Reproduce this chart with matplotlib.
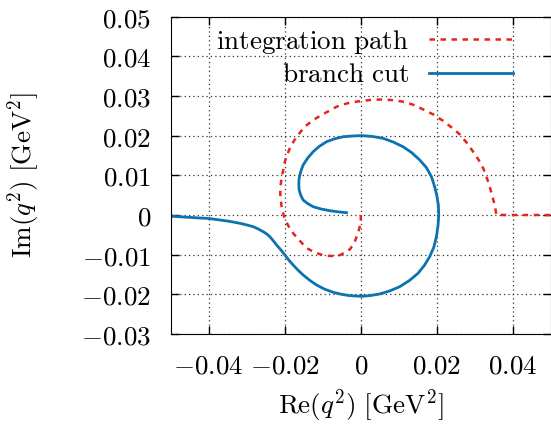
import matplotlib
matplotlib.use('Agg')
import matplotlib.pyplot as plt

plt.rcParams['mathtext.fontset'] = 'cm'
plt.rcParams['font.family'] = 'serif'
plt.rcParams['font.serif'] = ['DejaVu Serif']

# integration path
path_re = [0.0, 0.0, -0.0003, -0.00071, -0.00158, -0.0028, -0.0042, -0.0056, -0.0071,
           -0.0085, -0.0099, -0.0113, -0.01253, -0.0139, -0.01516, -0.0165, -0.01778,
           -0.0187, -0.01952, -0.0203, -0.0208, -0.02115, -0.02115, -0.02083, -0.0204,
           -0.01996, -0.01935, -0.01865, -0.0178, -0.01689, -0.0158, -0.01471, -0.01253,
           -0.0099, -0.0082, -0.00638, -0.0045, -0.00244, 0.0, 0.00236, 0.0052, 0.00806,
           0.0115, 0.014, 0.01636, 0.01899, 0.02162, 0.02382, 0.026, 0.02776, 0.02934,
           0.031, 0.03231, 0.0337, 0.03449, 0.0352, 0.03565, 0.05]
path_im = [0.0, -0.0015, -0.003, -0.0045, -0.00672, -0.0086, -0.0095, -0.01015, -0.01033,
           -0.0103, -0.01015, -0.0097, -0.00924, -0.0085, -0.0074, -0.006, -0.00461,
           -0.0033, -0.00188, 0.0, 0.002, 0.0046, 0.007, 0.00924, 0.0113,
           0.01343, 0.0152, 0.0168, 0.0183, 0.01972, 0.021, 0.02224, 0.02393,
           0.02544, 0.0263, 0.02728, 0.0279, 0.02839, 0.0287, 0.02897, 0.0291, 0.02897,
           0.0285, 0.0277, 0.02662, 0.02537, 0.02375, 0.02209, 0.02033, 0.01831, 0.0162,
           0.01385, 0.01151, 0.00781, 0.00504, 0.00252, 0.0, 0.0]

# branch cut
cut_re = [-0.05, -0.045, -0.04, -0.037, -0.0345, -0.03178, -0.03, -0.02829, -0.027,
          -0.02566, -0.0247, -0.0239, -0.023, -0.02214, -0.021, -0.01996, -0.0189,
          -0.01778, -0.0165, -0.01516, -0.0135, -0.01164, -0.0095, -0.00728, -0.005,
          -0.00289, 0.0002, 0.0025, 0.00499, 0.0077, 0.01024, 0.0128, 0.01505, 0.0167,
          0.01812, 0.0192, 0.01988, 0.0203, 0.02049, 0.0204, 0.02004, 0.0194, 0.01857,
          0.0172, 0.0155, 0.0134, 0.01111, 0.0085, 0.00586, 0.003, 0.0002, -0.00235,
          -0.00465, -0.0069, -0.00901, -0.0109, -0.01253, -0.014, -0.01516, -0.0158,
          -0.01621, -0.0163, -0.01621, -0.0158, -0.01516, -0.014, -0.01253, -0.0104,
          -0.00814, -0.006, -0.00376]
cut_im = [-0.0003, -0.0006, -0.00088, -0.00126, -0.0016, -0.00209, -0.0025, -0.00295, -0.0035,
          -0.0042, -0.0048, -0.00547, -0.0065, -0.00756, -0.0088, -0.01008, -0.0114,
          -0.0126, -0.0139, -0.01511, -0.0164, -0.01763, -0.0187, -0.01947, -0.02,
          -0.02032, -0.0205, -0.0203, -0.0199, -0.0191, -0.01806, -0.0165, -0.01469, -0.0127,
          -0.0105, -0.0081, -0.00547, -0.0027, 0.0, 0.0024, 0.00461, 0.0072, 0.00965,
          0.012, 0.01385, 0.0157, 0.0172, 0.0184, 0.01932, 0.0198, 0.02, 0.0199,
          0.01972, 0.0192, 0.01846, 0.0173, 0.01594, 0.0143, 0.01259, 0.0109,
          0.00924, 0.0078, 0.0063, 0.005, 0.00378, 0.0029, 0.00209, 0.0015,
          0.00108, 0.0008, 0.00058]

xticks = [-0.04, -0.02, 0, 0.02, 0.04]
xlabels = ['$-0.04$', '$-0.02$', '$0$', '$0.02$', '$0.04$']
yticks = [-0.03, -0.02, -0.01, 0, 0.01, 0.02, 0.03, 0.04, 0.05]
ylabels = ['$-0.03$', '$-0.02$', '$-0.01$', '$0$', '$0.01$', '$0.02$', '$0.03$', '$0.04$', '$0.05$']

fs = 19.5

fig = plt.figure(figsize=(5.51, 4.25), dpi=100)
ax = fig.add_axes([0.3096, 0.214, 0.6904, 0.747])

ax.plot(path_re, path_im, color='#e8231c', lw=1.8, dashes=(2.2, 2.2),
        label=r'$\mathrm{integration\ path}$')
ax.plot(cut_re, cut_im, color='#0c72b0', lw=2.0, label=r'$\mathrm{branch\ cut}$')

ax.set_xlim(-0.05, 0.05)
ax.set_ylim(-0.03, 0.05)
ax.set_xticks(xticks)
ax.set_xticklabels(xlabels)
ax.set_yticks(yticks)
ax.set_yticklabels(ylabels)
ax.tick_params(direction='in', top=True, right=True, length=6, width=1,
               labelsize=fs)
ax.tick_params(axis='y', pad=14)
ax.tick_params(axis='x', pad=13)
ax.grid(True, color='k', linestyle=(0, (1, 2.5)), lw=0.9, alpha=0.8)

ax.set_xlabel(r'$\mathrm{Re}(q^2)\ [\mathrm{GeV}^2]$', fontsize=fs, labelpad=6)
ax.set_ylabel(r'$\mathrm{Im}(q^2)\ [\mathrm{GeV}^2]$', fontsize=fs, labelpad=28)

ax.legend(loc='upper right', bbox_to_anchor=(0.90, 0.965), frameon=False,
          markerfirst=False, fontsize=fs, handlelength=3.1, handletextpad=0.74,
          labelspacing=0.2, borderpad=0, borderaxespad=0)

fig.savefig('out.png', dpi=100)
